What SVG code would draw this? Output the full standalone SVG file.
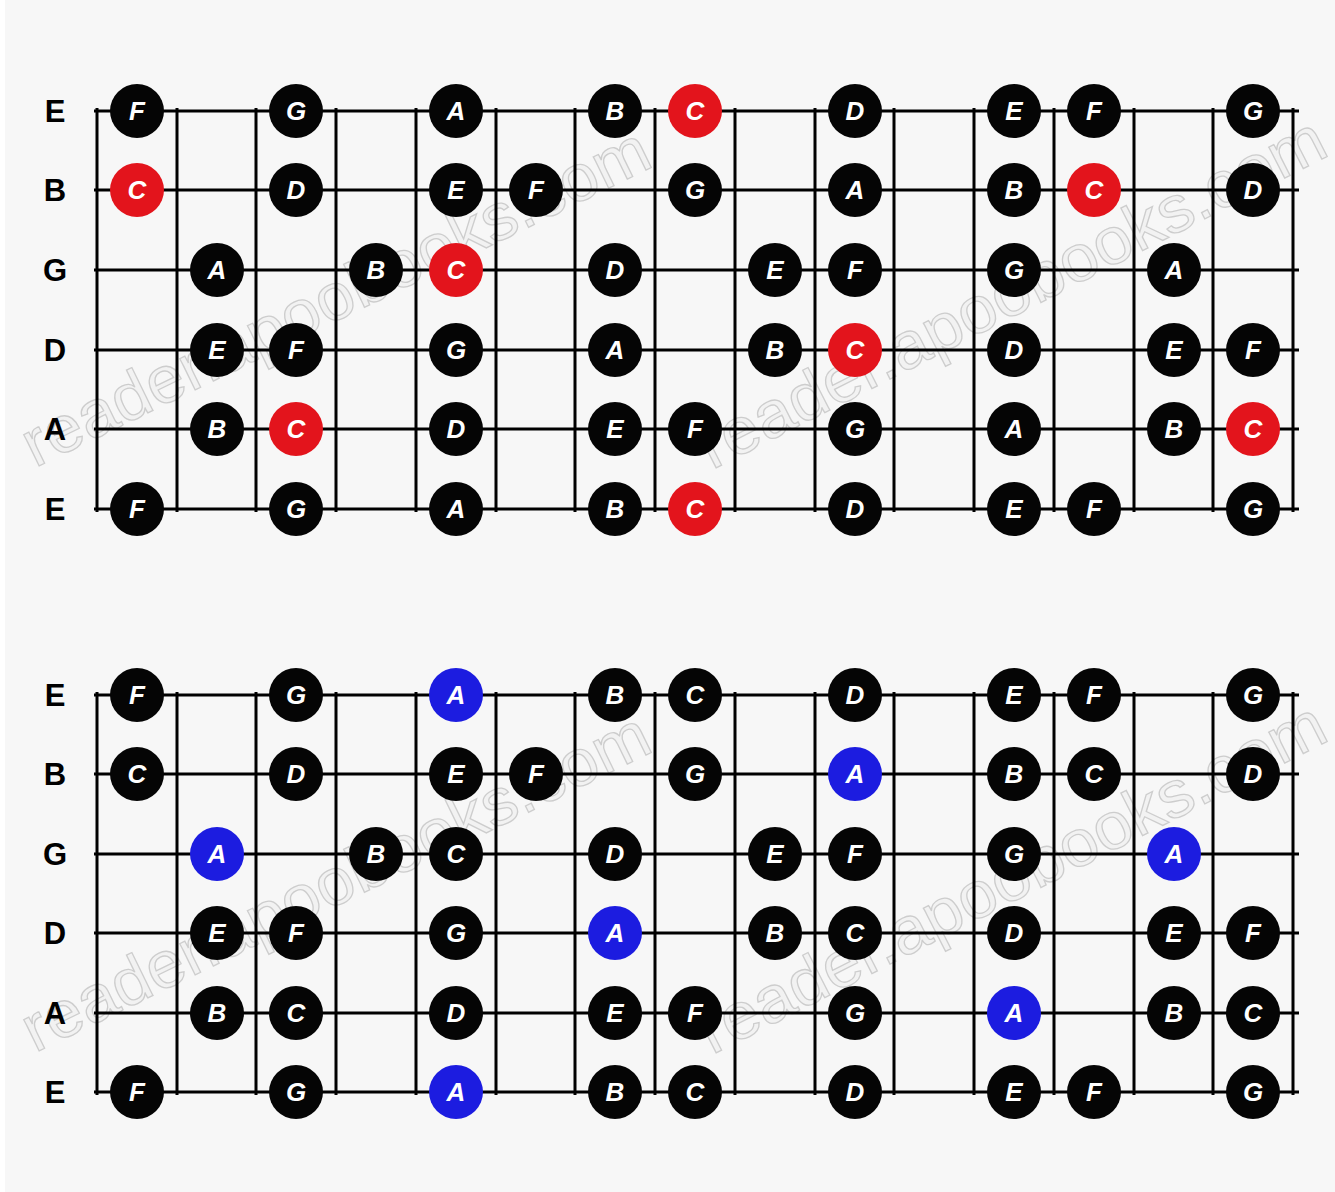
<svg xmlns="http://www.w3.org/2000/svg" width="1335" height="1192" viewBox="0 0 1335 1192">
<style>
.bg{fill:#f7f7f7}
.wm{font-family:"Liberation Sans",Arial,sans-serif;font-size:66px;fill:#f0f0f0;stroke:#b8b8b8;stroke-width:1.3;opacity:0.65}
.str line,.fret line{stroke:#000;stroke-width:3}
.lbl{font-family:"Liberation Sans",Arial,sans-serif;font-weight:bold;font-size:31px;fill:#000;text-anchor:middle}
.n circle{fill:#050505}
.r circle{fill:#e3141c}
.b circle{fill:#1c1ce0}
.n text{fill:#fff;font-family:"Liberation Sans",Arial,sans-serif;font-style:italic;font-weight:bold;font-size:26px;text-anchor:middle}
</style>
<rect class="bg" x="0" y="0" width="1335" height="1192"/>
<rect x="0" y="0" width="5" height="1192" fill="#fff"/>
<g id="watermark">
<text class="wm" transform="translate(35,468) rotate(-26)" textLength="690" lengthAdjust="spacingAndGlyphs">reader.apoobooks.com</text>
<text class="wm" transform="translate(712,470) rotate(-27)" textLength="695" lengthAdjust="spacingAndGlyphs">reader.apoobooks.com</text>
<text class="wm" transform="translate(35,1053) rotate(-26)" textLength="690" lengthAdjust="spacingAndGlyphs">reader.apoobooks.com</text>
<text class="wm" transform="translate(712,1055) rotate(-27)" textLength="695" lengthAdjust="spacingAndGlyphs">reader.apoobooks.com</text>
</g>
<g id="connectors">
<g id="top-strings" class="str">
<line x1="94" y1="111" x2="1299" y2="111"/><line x1="94" y1="190" x2="1299" y2="190"/><line x1="94" y1="270" x2="1299" y2="270"/><line x1="94" y1="350" x2="1299" y2="350"/><line x1="94" y1="429" x2="1299" y2="429"/><line x1="94" y1="509" x2="1299" y2="509"/>
</g>
<g id="top-frets" class="fret">
<line x1="97" y1="108" x2="97" y2="512"/><line x1="177" y1="108" x2="177" y2="512"/><line x1="256" y1="108" x2="256" y2="512"/><line x1="336" y1="108" x2="336" y2="512"/><line x1="416" y1="108" x2="416" y2="512"/><line x1="496" y1="108" x2="496" y2="512"/><line x1="575" y1="108" x2="575" y2="512"/><line x1="655" y1="108" x2="655" y2="512"/><line x1="735" y1="108" x2="735" y2="512"/><line x1="815" y1="108" x2="815" y2="512"/><line x1="894" y1="108" x2="894" y2="512"/><line x1="974" y1="108" x2="974" y2="512"/><line x1="1054" y1="108" x2="1054" y2="512"/><line x1="1134" y1="108" x2="1134" y2="512"/><line x1="1213" y1="108" x2="1213" y2="512"/><line x1="1293" y1="108" x2="1293" y2="512"/>
</g>
<g id="bottom-strings" class="str">
<line x1="94" y1="695" x2="1299" y2="695"/><line x1="94" y1="774" x2="1299" y2="774"/><line x1="94" y1="854" x2="1299" y2="854"/><line x1="94" y1="933" x2="1299" y2="933"/><line x1="94" y1="1013" x2="1299" y2="1013"/><line x1="94" y1="1092" x2="1299" y2="1092"/>
</g>
<g id="bottom-frets" class="fret">
<line x1="97" y1="692" x2="97" y2="1095"/><line x1="177" y1="692" x2="177" y2="1095"/><line x1="256" y1="692" x2="256" y2="1095"/><line x1="336" y1="692" x2="336" y2="1095"/><line x1="416" y1="692" x2="416" y2="1095"/><line x1="496" y1="692" x2="496" y2="1095"/><line x1="575" y1="692" x2="575" y2="1095"/><line x1="655" y1="692" x2="655" y2="1095"/><line x1="735" y1="692" x2="735" y2="1095"/><line x1="815" y1="692" x2="815" y2="1095"/><line x1="894" y1="692" x2="894" y2="1095"/><line x1="974" y1="692" x2="974" y2="1095"/><line x1="1054" y1="692" x2="1054" y2="1095"/><line x1="1134" y1="692" x2="1134" y2="1095"/><line x1="1213" y1="692" x2="1213" y2="1095"/><line x1="1293" y1="692" x2="1293" y2="1095"/>
</g>
</g>
<g id="labels">
<text class="lbl" x="55" y="122">E</text><text class="lbl" x="55" y="201">B</text><text class="lbl" x="55" y="281">G</text><text class="lbl" x="55" y="361">D</text><text class="lbl" x="55" y="440">A</text><text class="lbl" x="55" y="520">E</text>
<text class="lbl" x="55" y="706">E</text><text class="lbl" x="55" y="785">B</text><text class="lbl" x="55" y="865">G</text><text class="lbl" x="55" y="944">D</text><text class="lbl" x="55" y="1024">A</text><text class="lbl" x="55" y="1103">E</text>
</g>
<g id="top-notes">
<g id="t0-1" class="n"><circle cx="137" cy="111" r="27"/><text x="137" y="120">F</text></g>
<g id="t0-3" class="n"><circle cx="296" cy="111" r="27"/><text x="296" y="120">G</text></g>
<g id="t0-5" class="n"><circle cx="456" cy="111" r="27"/><text x="456" y="120">A</text></g>
<g id="t0-7" class="n"><circle cx="615" cy="111" r="27"/><text x="615" y="120">B</text></g>
<g id="t0-8" class="n r"><circle cx="695" cy="111" r="27"/><text x="695" y="120">C</text></g>
<g id="t0-10" class="n"><circle cx="855" cy="111" r="27"/><text x="855" y="120">D</text></g>
<g id="t0-12" class="n"><circle cx="1014" cy="111" r="27"/><text x="1014" y="120">E</text></g>
<g id="t0-13" class="n"><circle cx="1094" cy="111" r="27"/><text x="1094" y="120">F</text></g>
<g id="t0-15" class="n"><circle cx="1253" cy="111" r="27"/><text x="1253" y="120">G</text></g>

<g id="t1-1" class="n r"><circle cx="137" cy="190" r="27"/><text x="137" y="199">C</text></g>
<g id="t1-3" class="n"><circle cx="296" cy="190" r="27"/><text x="296" y="199">D</text></g>
<g id="t1-5" class="n"><circle cx="456" cy="190" r="27"/><text x="456" y="199">E</text></g>
<g id="t1-6" class="n"><circle cx="536" cy="190" r="27"/><text x="536" y="199">F</text></g>
<g id="t1-8" class="n"><circle cx="695" cy="190" r="27"/><text x="695" y="199">G</text></g>
<g id="t1-10" class="n"><circle cx="855" cy="190" r="27"/><text x="855" y="199">A</text></g>
<g id="t1-12" class="n"><circle cx="1014" cy="190" r="27"/><text x="1014" y="199">B</text></g>
<g id="t1-13" class="n r"><circle cx="1094" cy="190" r="27"/><text x="1094" y="199">C</text></g>
<g id="t1-15" class="n"><circle cx="1253" cy="190" r="27"/><text x="1253" y="199">D</text></g>

<g id="t2-2" class="n"><circle cx="217" cy="270" r="27"/><text x="217" y="279">A</text></g>
<g id="t2-4" class="n"><circle cx="376" cy="270" r="27"/><text x="376" y="279">B</text></g>
<g id="t2-5" class="n r"><circle cx="456" cy="270" r="27"/><text x="456" y="279">C</text></g>
<g id="t2-7" class="n"><circle cx="615" cy="270" r="27"/><text x="615" y="279">D</text></g>
<g id="t2-9" class="n"><circle cx="775" cy="270" r="27"/><text x="775" y="279">E</text></g>
<g id="t2-10" class="n"><circle cx="855" cy="270" r="27"/><text x="855" y="279">F</text></g>
<g id="t2-12" class="n"><circle cx="1014" cy="270" r="27"/><text x="1014" y="279">G</text></g>
<g id="t2-14" class="n"><circle cx="1174" cy="270" r="27"/><text x="1174" y="279">A</text></g>

<g id="t3-2" class="n"><circle cx="217" cy="350" r="27"/><text x="217" y="359">E</text></g>
<g id="t3-3" class="n"><circle cx="296" cy="350" r="27"/><text x="296" y="359">F</text></g>
<g id="t3-5" class="n"><circle cx="456" cy="350" r="27"/><text x="456" y="359">G</text></g>
<g id="t3-7" class="n"><circle cx="615" cy="350" r="27"/><text x="615" y="359">A</text></g>
<g id="t3-9" class="n"><circle cx="775" cy="350" r="27"/><text x="775" y="359">B</text></g>
<g id="t3-10" class="n r"><circle cx="855" cy="350" r="27"/><text x="855" y="359">C</text></g>
<g id="t3-12" class="n"><circle cx="1014" cy="350" r="27"/><text x="1014" y="359">D</text></g>
<g id="t3-14" class="n"><circle cx="1174" cy="350" r="27"/><text x="1174" y="359">E</text></g>
<g id="t3-15" class="n"><circle cx="1253" cy="350" r="27"/><text x="1253" y="359">F</text></g>

<g id="t4-2" class="n"><circle cx="217" cy="429" r="27"/><text x="217" y="438">B</text></g>
<g id="t4-3" class="n r"><circle cx="296" cy="429" r="27"/><text x="296" y="438">C</text></g>
<g id="t4-5" class="n"><circle cx="456" cy="429" r="27"/><text x="456" y="438">D</text></g>
<g id="t4-7" class="n"><circle cx="615" cy="429" r="27"/><text x="615" y="438">E</text></g>
<g id="t4-8" class="n"><circle cx="695" cy="429" r="27"/><text x="695" y="438">F</text></g>
<g id="t4-10" class="n"><circle cx="855" cy="429" r="27"/><text x="855" y="438">G</text></g>
<g id="t4-12" class="n"><circle cx="1014" cy="429" r="27"/><text x="1014" y="438">A</text></g>
<g id="t4-14" class="n"><circle cx="1174" cy="429" r="27"/><text x="1174" y="438">B</text></g>
<g id="t4-15" class="n r"><circle cx="1253" cy="429" r="27"/><text x="1253" y="438">C</text></g>

<g id="t5-1" class="n"><circle cx="137" cy="509" r="27"/><text x="137" y="518">F</text></g>
<g id="t5-3" class="n"><circle cx="296" cy="509" r="27"/><text x="296" y="518">G</text></g>
<g id="t5-5" class="n"><circle cx="456" cy="509" r="27"/><text x="456" y="518">A</text></g>
<g id="t5-7" class="n"><circle cx="615" cy="509" r="27"/><text x="615" y="518">B</text></g>
<g id="t5-8" class="n r"><circle cx="695" cy="509" r="27"/><text x="695" y="518">C</text></g>
<g id="t5-10" class="n"><circle cx="855" cy="509" r="27"/><text x="855" y="518">D</text></g>
<g id="t5-12" class="n"><circle cx="1014" cy="509" r="27"/><text x="1014" y="518">E</text></g>
<g id="t5-13" class="n"><circle cx="1094" cy="509" r="27"/><text x="1094" y="518">F</text></g>
<g id="t5-15" class="n"><circle cx="1253" cy="509" r="27"/><text x="1253" y="518">G</text></g>
</g>
<g id="bottom-notes">
<g id="b0-1" class="n"><circle cx="137" cy="695" r="27"/><text x="137" y="704">F</text></g>
<g id="b0-3" class="n"><circle cx="296" cy="695" r="27"/><text x="296" y="704">G</text></g>
<g id="b0-5" class="n b"><circle cx="456" cy="695" r="27"/><text x="456" y="704">A</text></g>
<g id="b0-7" class="n"><circle cx="615" cy="695" r="27"/><text x="615" y="704">B</text></g>
<g id="b0-8" class="n"><circle cx="695" cy="695" r="27"/><text x="695" y="704">C</text></g>
<g id="b0-10" class="n"><circle cx="855" cy="695" r="27"/><text x="855" y="704">D</text></g>
<g id="b0-12" class="n"><circle cx="1014" cy="695" r="27"/><text x="1014" y="704">E</text></g>
<g id="b0-13" class="n"><circle cx="1094" cy="695" r="27"/><text x="1094" y="704">F</text></g>
<g id="b0-15" class="n"><circle cx="1253" cy="695" r="27"/><text x="1253" y="704">G</text></g>

<g id="b1-1" class="n"><circle cx="137" cy="774" r="27"/><text x="137" y="783">C</text></g>
<g id="b1-3" class="n"><circle cx="296" cy="774" r="27"/><text x="296" y="783">D</text></g>
<g id="b1-5" class="n"><circle cx="456" cy="774" r="27"/><text x="456" y="783">E</text></g>
<g id="b1-6" class="n"><circle cx="536" cy="774" r="27"/><text x="536" y="783">F</text></g>
<g id="b1-8" class="n"><circle cx="695" cy="774" r="27"/><text x="695" y="783">G</text></g>
<g id="b1-10" class="n b"><circle cx="855" cy="774" r="27"/><text x="855" y="783">A</text></g>
<g id="b1-12" class="n"><circle cx="1014" cy="774" r="27"/><text x="1014" y="783">B</text></g>
<g id="b1-13" class="n"><circle cx="1094" cy="774" r="27"/><text x="1094" y="783">C</text></g>
<g id="b1-15" class="n"><circle cx="1253" cy="774" r="27"/><text x="1253" y="783">D</text></g>

<g id="b2-2" class="n b"><circle cx="217" cy="854" r="27"/><text x="217" y="863">A</text></g>
<g id="b2-4" class="n"><circle cx="376" cy="854" r="27"/><text x="376" y="863">B</text></g>
<g id="b2-5" class="n"><circle cx="456" cy="854" r="27"/><text x="456" y="863">C</text></g>
<g id="b2-7" class="n"><circle cx="615" cy="854" r="27"/><text x="615" y="863">D</text></g>
<g id="b2-9" class="n"><circle cx="775" cy="854" r="27"/><text x="775" y="863">E</text></g>
<g id="b2-10" class="n"><circle cx="855" cy="854" r="27"/><text x="855" y="863">F</text></g>
<g id="b2-12" class="n"><circle cx="1014" cy="854" r="27"/><text x="1014" y="863">G</text></g>
<g id="b2-14" class="n b"><circle cx="1174" cy="854" r="27"/><text x="1174" y="863">A</text></g>

<g id="b3-2" class="n"><circle cx="217" cy="933" r="27"/><text x="217" y="942">E</text></g>
<g id="b3-3" class="n"><circle cx="296" cy="933" r="27"/><text x="296" y="942">F</text></g>
<g id="b3-5" class="n"><circle cx="456" cy="933" r="27"/><text x="456" y="942">G</text></g>
<g id="b3-7" class="n b"><circle cx="615" cy="933" r="27"/><text x="615" y="942">A</text></g>
<g id="b3-9" class="n"><circle cx="775" cy="933" r="27"/><text x="775" y="942">B</text></g>
<g id="b3-10" class="n"><circle cx="855" cy="933" r="27"/><text x="855" y="942">C</text></g>
<g id="b3-12" class="n"><circle cx="1014" cy="933" r="27"/><text x="1014" y="942">D</text></g>
<g id="b3-14" class="n"><circle cx="1174" cy="933" r="27"/><text x="1174" y="942">E</text></g>
<g id="b3-15" class="n"><circle cx="1253" cy="933" r="27"/><text x="1253" y="942">F</text></g>

<g id="b4-2" class="n"><circle cx="217" cy="1013" r="27"/><text x="217" y="1022">B</text></g>
<g id="b4-3" class="n"><circle cx="296" cy="1013" r="27"/><text x="296" y="1022">C</text></g>
<g id="b4-5" class="n"><circle cx="456" cy="1013" r="27"/><text x="456" y="1022">D</text></g>
<g id="b4-7" class="n"><circle cx="615" cy="1013" r="27"/><text x="615" y="1022">E</text></g>
<g id="b4-8" class="n"><circle cx="695" cy="1013" r="27"/><text x="695" y="1022">F</text></g>
<g id="b4-10" class="n"><circle cx="855" cy="1013" r="27"/><text x="855" y="1022">G</text></g>
<g id="b4-12" class="n b"><circle cx="1014" cy="1013" r="27"/><text x="1014" y="1022">A</text></g>
<g id="b4-14" class="n"><circle cx="1174" cy="1013" r="27"/><text x="1174" y="1022">B</text></g>
<g id="b4-15" class="n"><circle cx="1253" cy="1013" r="27"/><text x="1253" y="1022">C</text></g>

<g id="b5-1" class="n"><circle cx="137" cy="1092" r="27"/><text x="137" y="1101">F</text></g>
<g id="b5-3" class="n"><circle cx="296" cy="1092" r="27"/><text x="296" y="1101">G</text></g>
<g id="b5-5" class="n b"><circle cx="456" cy="1092" r="27"/><text x="456" y="1101">A</text></g>
<g id="b5-7" class="n"><circle cx="615" cy="1092" r="27"/><text x="615" y="1101">B</text></g>
<g id="b5-8" class="n"><circle cx="695" cy="1092" r="27"/><text x="695" y="1101">C</text></g>
<g id="b5-10" class="n"><circle cx="855" cy="1092" r="27"/><text x="855" y="1101">D</text></g>
<g id="b5-12" class="n"><circle cx="1014" cy="1092" r="27"/><text x="1014" y="1101">E</text></g>
<g id="b5-13" class="n"><circle cx="1094" cy="1092" r="27"/><text x="1094" y="1101">F</text></g>
<g id="b5-15" class="n"><circle cx="1253" cy="1092" r="27"/><text x="1253" y="1101">G</text></g>
</g>
</svg>
